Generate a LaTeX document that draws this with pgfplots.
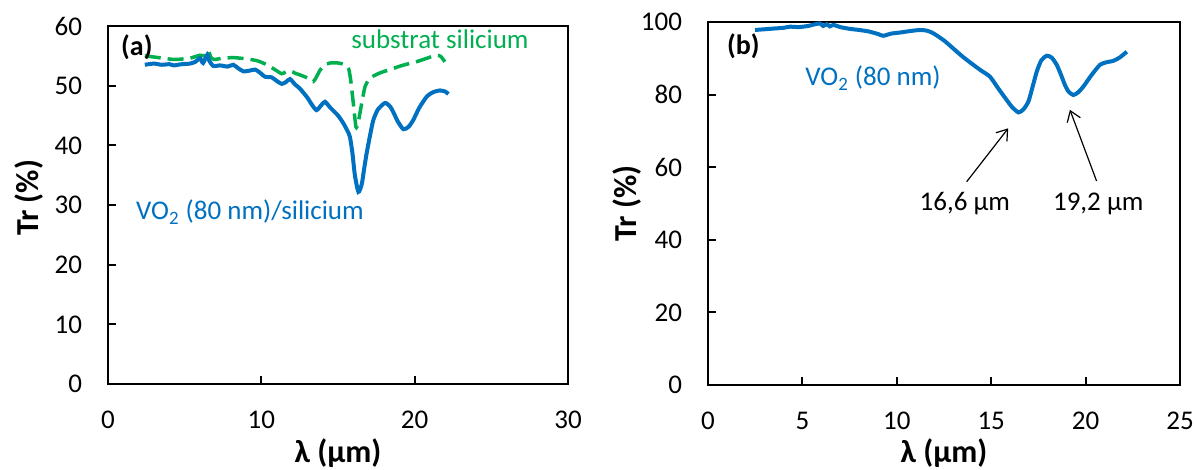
\documentclass[border=0pt]{standalone}
\usepackage{pgfplots}
\pgfplotsset{compat=1.18}
\usepackage{fontspec}
\setmainfont{Carlito}
\usetikzlibrary{arrows.meta}
\definecolor{cblue}{HTML}{0070C0}
\definecolor{cgreen}{HTML}{00B050}
\pgfplotsset{
  myax/.style={
    scale only axis,
    axis line style={line width=1pt},
    tick style={line width=1pt,black},
    major tick length=4pt,
    tick align=inside,
    xtick pos=left, ytick pos=left,
    font=\fontsize{13.5}{16}\selectfont,
    /pgf/number format/assume math mode=true,
    xticklabel style={yshift=-10pt},
    yticklabel style={xshift=-9.5pt},
    label style={font=\fontsize{16}{18}\selectfont\bfseries},
    clip=false,
  }
}
\begin{document}
\begin{tikzpicture}
\useasboundingbox (0,0) rectangle (598.5pt,235pt);
% ---------- (a)
\begin{axis}[myax, at={(54pt,43pt)}, anchor=south west,
  width=230pt, height=179pt,
  xmin=0, xmax=30, xtick={0,10,20,30},
  ymin=0, ymax=60, ytick={0,10,...,60},
  xlabel={λ (µm)}, ylabel={Tr (\%)},
  xlabel style={at={(axis description cs:0.5,-0.193)}, anchor=center},
  ylabel style={at={(axis description cs:-0.172,0.52)}, anchor=center, rotate=0},
]
\addplot[cgreen, line width=1.75pt, dash pattern=on 8pt off 3.5pt, smooth, tension=0.4] coordinates {
(2.4,55.0)(3.0,54.8)(4.26,54.4)(5.0,54.5)(5.35,54.6)(6.0,55.1)(6.3,55.0)(6.54,55.9)(6.7,54.8)(6.9,54.4)
(7.5,54.6)(8.17,54.7)(9.0,54.5)(9.7,54.2)(10.2,53.7)(10.57,53.2)(11.0,52.5)(11.33,52.0)(11.6,52.3)(11.87,52.5)
(12.2,52.1)(12.52,51.8)(13.0,51.3)(13.39,50.7)(13.6,51.5)(13.83,52.6)(14.1,53.4)(14.48,53.8)(15.0,53.8)(15.46,53.5)
(15.7,52.8)(15.85,50.5)(16.0,47.0)(16.17,43.1)(16.3,43.6)(16.43,45.4)(16.6,47.8)(16.76,49.8)(17.0,51.0)(17.3,51.6)
(17.8,52.2)(18.39,52.7)(19.2,53.4)(20.1,54.0)(20.8,54.6)(21.4,55.1)(21.7,54.9)(21.97,54.0)
};
\addplot[cblue, line width=2pt, smooth, tension=0.4] coordinates {
(2.4,53.5)(3.0,53.7)(3.5,53.5)(4.0,53.6)(4.3,53.4)(4.8,53.6)(5.35,53.7)(5.7,54.0)(6.0,54.6)(6.2,53.8)
(6.48,55.2)(6.6,54.2)(6.87,53.3)(7.3,53.4)(7.8,53.2)(8.17,53.5)(8.5,52.9)(8.83,52.4)(9.2,52.5)(9.59,52.7)
(9.9,52.2)(10.24,51.5)(10.67,51.4)(11.0,50.8)(11.33,50.3)(11.6,50.6)(11.87,51.1)(12.2,50.2)(12.52,49.5)(13.0,48.0)
(13.3,46.8)(13.6,45.9)(13.9,46.7)(14.15,47.3)(14.5,46.3)(15.0,45.0)(15.35,43.7)(15.6,42.5)(15.78,41.4)(15.95,38.5)
(16.1,35.0)(16.33,32.2)(16.55,33.5)(16.7,36.0)(16.87,38.7)(17.1,41.8)(17.3,44.2)(17.6,46.0)(18.07,47.1)(18.4,46.5)
(18.6,45.6)(18.9,44.0)(19.26,42.7)(19.6,43.1)(19.9,44.2)(20.3,46.3)(20.8,48.2)(21.2,48.9)(21.65,49.2)(22.0,49.0)(22.2,48.6)
};
\node[anchor=west, font=\fontsize{14}{16}\selectfont\bfseries] at (axis cs:0.4,56.5) {(a)};
\node[cgreen] at (axis cs:21.65,57.7) {substrat silicium};
\node[cblue] at (axis cs:9.26,28.8) {VO\textsubscript{2} (80 nm)/silicium};
\end{axis}
% ---------- (b)
\begin{axis}[myax, at={(354pt,42.5pt)}, anchor=south west,
  width=236pt, height=181.5pt,
  xmin=0, xmax=25, xtick={0,5,...,25},
  ymin=0, ymax=100, ytick={0,20,...,100},
  xlabel={λ (µm)}, ylabel={Tr (\%)},
  xlabel style={at={(axis description cs:0.5,-0.187)}, anchor=center},
  ylabel style={at={(axis description cs:-0.172,0.5)}, anchor=center, rotate=0},
]
\addplot[cblue, line width=2pt, smooth, tension=0.4] coordinates {
(2.49,97.8)(3.0,98.0)(3.5,98.2)(4.0,98.4)(4.34,98.7)(4.8,98.6)(5.3,98.9)(5.6,99.3)(5.93,99.6)(6.1,98.9)
(6.29,99.4)(6.45,98.8)(6.64,99.2)(7.0,98.6)(7.52,98.1)(8.0,97.8)(8.5,97.4)(9.0,96.7)(9.28,96.2)(9.7,96.8)
(10.17,97.1)(10.7,97.5)(11.23,97.8)(11.6,97.6)(11.93,96.9)(12.5,94.9)(12.99,92.7)(13.5,90.4)(14.05,88.2)(14.5,86.5)
(14.94,84.9)(15.4,81.5)(15.82,78.5)(16.1,76.6)(16.44,75.1)(16.7,75.9)(16.97,78.1)(17.2,82.3)(17.41,86.3)(17.65,89.4)
(17.94,90.7)(18.2,90.2)(18.47,88.2)(18.7,85.4)(18.91,82.6)(19.1,80.8)(19.35,79.9)(19.6,80.6)(19.88,82.2)(20.3,85.3)
(20.76,88.2)(21.1,88.9)(21.47,89.3)(21.8,90.2)(22.18,91.8)
};
\node[anchor=west, font=\fontsize{14}{16}\selectfont\bfseries] at (axis cs:0.64,93.2) {(b)};
\node[cblue] at (axis cs:8.74,84.5) {VO\textsubscript{2} (80 nm)};
\node at (axis cs:13.6,50) {16,6 µm};
\node at (axis cs:20.67,50) {19,2 µm};
\draw[line width=0.6pt, -{Straight Barb[length=5pt,width=7pt]}] (axis cs:13.7,56) -- (axis cs:15.9,70.7);
\draw[line width=0.6pt, -{Straight Barb[length=5pt,width=7pt]}] (axis cs:20.58,56.2) -- (axis cs:19.17,75.8);
\end{axis}
\end{tikzpicture}
\end{document}
